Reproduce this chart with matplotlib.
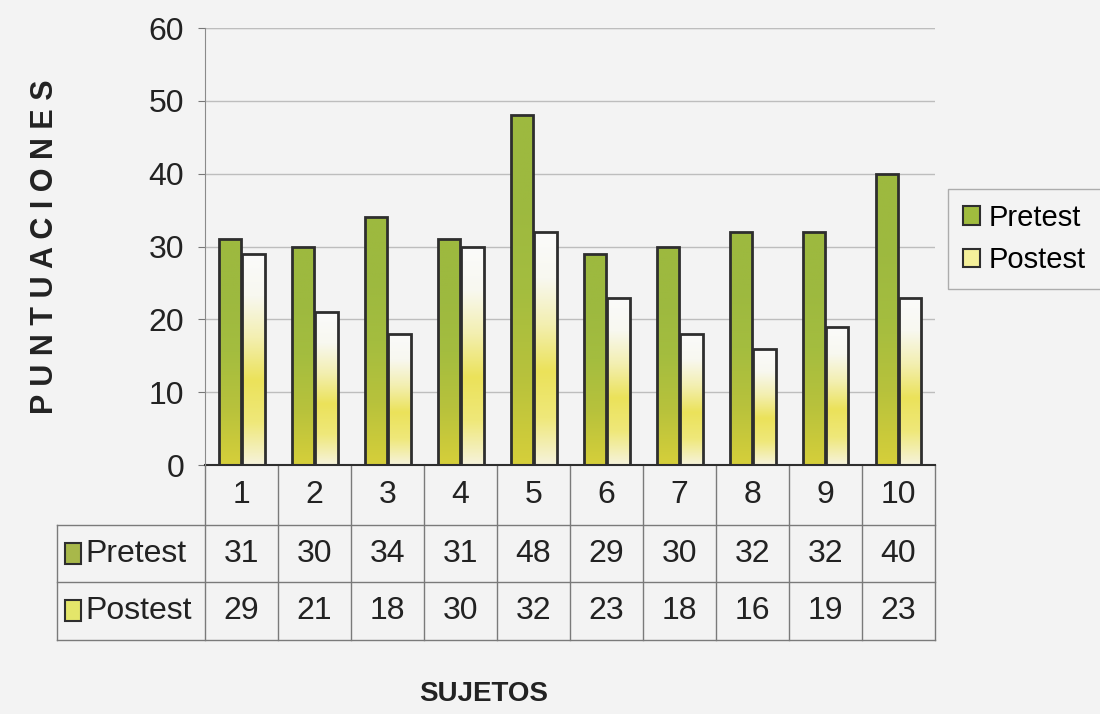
import matplotlib
matplotlib.use('Agg')
import matplotlib.pyplot as plt
import matplotlib.transforms as mtransforms
from matplotlib.colors import LinearSegmentedColormap
import matplotlib.patches as mpatches
import numpy as np

plt.rcParams['font.family'] = ['Liberation Sans', 'DejaVu Sans']

SUBJECTS = ['1', '2', '3', '4', '5', '6', '7', '8', '9', '10']
PRETEST = [31, 30, 34, 31, 48, 29, 30, 32, 32, 40]
POSTEST = [29, 21, 18, 30, 32, 23, 18, 16, 19, 23]
SERIES_NAMES = ['Pretest', 'Postest']
Y_TICKS = [0, 10, 20, 30, 40, 50, 60]

BG = '#f3f3f3'
EDGE = '#2e2e2e'
TXT = '#222222'
FONT_SIZE = 23
pre_cmap = LinearSegmentedColormap.from_list('pre', ['#d6cf3a', '#b8c23c', '#a4bd3f', '#9db93f', '#9db93f'])
post_cmap = LinearSegmentedColormap.from_list('post', ['#f6f3dc', '#efe87a', '#ebe25a', '#f3efb0', '#f8f8f0', '#fbfbfb'])

fig = plt.figure(figsize=(11, 7.14), dpi=100, facecolor=BG)
ax = fig.add_axes([0.1864, 0.3487, 0.6636, 0.612], facecolor=BG)

x = np.arange(1, len(SUBJECTS) + 1)
width = 0.31
grad = np.linspace(0, 1, 256).reshape(-1, 1)


def gradient_bars(xs, vals, cmap):
    bars = ax.bar(xs, vals, width, facecolor='none', edgecolor=EDGE, linewidth=2, zorder=3)
    for b in bars:
        x0, y0 = b.get_x(), b.get_y()
        im = ax.imshow(grad, extent=[x0, x0 + b.get_width(), y0, y0 + b.get_height()],
                       origin='lower', aspect='auto', cmap=cmap, zorder=2)
        im.set_clip_path(b)
    return bars


gradient_bars(x - 0.16, PRETEST, pre_cmap)
gradient_bars(x + 0.16, POSTEST, post_cmap)

ax.set_xlim(0.5, len(SUBJECTS) + 0.5)
ax.set_ylim(0, 60)
ax.set_yticks(Y_TICKS)
ax.set_xticks([])
ax.tick_params(axis='y', labelsize=FONT_SIZE, length=5, color='#777777', pad=10, labelcolor=TXT)
ax.grid(axis='y', color='#bdbdbd', linewidth=1, zorder=0)
for s in ['top', 'right', 'bottom']:
    ax.spines[s].set_visible(False)
ax.spines['left'].set_color('#8a8a8a')
ax.axhline(60, color='#d8d8d8', linewidth=1, zorder=0)

# data table below the axis
blend = mtransforms.blended_transform_factory(ax.transData, ax.transAxes)
row_y = [0, -0.137, -0.268, -0.40]
label_left = -0.203
line_kw = dict(color='#7a7a7a', linewidth=1, clip_on=False)
for xv in np.arange(0.5, len(SUBJECTS) + 1, 1):
    ax.plot([xv, xv], [row_y[0], row_y[3]], transform=blend, **line_kw)
ax.plot([0.5, len(SUBJECTS) + 0.5], [0, 0], transform=blend, color=EDGE, linewidth=1.5, clip_on=False)
for yv in row_y[1:]:
    ax.plot([label_left, 1], [yv, yv], transform=ax.transAxes, **line_kw)
ax.plot([label_left, label_left], [row_y[1], row_y[3]], transform=ax.transAxes, **line_kw)

for i, s in enumerate(SUBJECTS):
    ax.text(x[i], (row_y[0] + row_y[1]) / 2, s, transform=blend, ha='center', va='center',
            fontsize=FONT_SIZE, color=TXT)
    ax.text(x[i], (row_y[1] + row_y[2]) / 2, str(PRETEST[i]), transform=blend, ha='center', va='center',
            fontsize=FONT_SIZE, color=TXT)
    ax.text(x[i], (row_y[2] + row_y[3]) / 2, str(POSTEST[i]), transform=blend, ha='center', va='center',
            fontsize=FONT_SIZE, color=TXT)

key_colors = ['#a8b84a', '#e4e66a']
for j, name in enumerate(SERIES_NAMES):
    yc = (row_y[j + 1] + row_y[j + 2]) / 2
    ax.add_patch(mpatches.Rectangle((label_left + 0.0115, yc - 0.024), 0.022, 0.048, transform=ax.transAxes,
                                    facecolor=key_colors[j], edgecolor=EDGE, linewidth=1.5, clip_on=False))
    ax.text(label_left + 0.039, yc, name, transform=ax.transAxes, ha='left', va='center',
            fontsize=FONT_SIZE, color=TXT)

ax.set_ylabel('P U N T U A C I O N E S', fontsize=22, fontweight='bold', labelpad=64, color=TXT)
ax.text(0.382, -0.525, 'SUJETOS', transform=ax.transAxes, ha='center', va='center',
        fontsize=20, fontweight='bold', color=TXT)

# legend on the right
handles = [mpatches.Patch(facecolor='#a0bc3e', edgecolor=EDGE, linewidth=1.5, label=SERIES_NAMES[0]),
           mpatches.Patch(facecolor='#f4f09a', edgecolor=EDGE, linewidth=1.5, label=SERIES_NAMES[1])]
leg = fig.legend(handles=handles, loc='upper left', bbox_to_anchor=(0.862, 0.735), fontsize=21,
                 frameon=True, fancybox=False, edgecolor='#9a9a9a', facecolor=BG, handlelength=0.6,
                 handleheight=0.6, handletextpad=0.3, labelspacing=0.5, borderpad=0.5, borderaxespad=0)
leg.get_frame().set_linewidth(1)

fig.savefig('out.png', dpi=100, facecolor=BG)
